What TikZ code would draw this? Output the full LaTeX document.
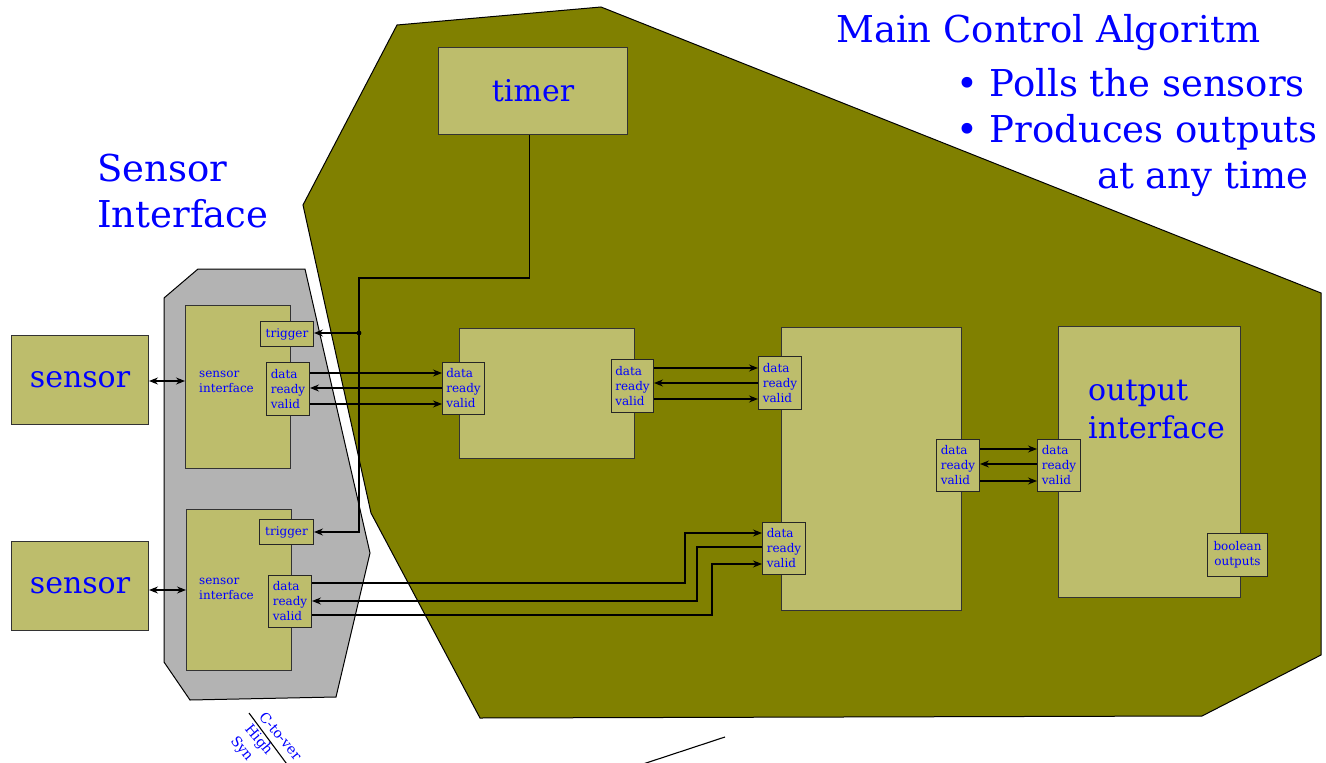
\documentclass[tikz,border=0pt]{standalone}
\usepackage{fontspec}
\setmainfont{DejaVu Serif}
\usetikzlibrary{arrows.meta,calc}
\definecolor{boxfill}{RGB}{189,189,108}
\definecolor{olivebg}{RGB}{128,128,0}
\definecolor{graybg}{RGB}{179,179,179}
\definecolor{txtblue}{RGB}{0,0,255}
\begin{document}
\begin{tikzpicture}[x=1pt,y=-1pt,
  blk/.style={draw=black!80, fill=boxfill, line width=1pt, inner sep=0pt, anchor=north west},
  port/.style={draw=black!85, fill=boxfill, line width=1pt, inner sep=0pt, anchor=north west,
    text=txtblue, font=\fontsize{12}{15}\selectfont, align=left},
  arr/.style={-{Stealth[length=9pt,width=7pt,inset=3pt]}, line width=1.1pt},
  dbl/.style={{Stealth[length=9pt,width=7pt,inset=3pt]}-{Stealth[length=9pt,width=7pt,inset=3pt]}, line width=1.1pt},
  ln/.style={line width=1.1pt},
  bigtxt/.style={text=txtblue, font=\fontsize{30}{38}\selectfont, inner sep=0pt},
  hugetxt/.style={text=txtblue, font=\fontsize{37}{46}\selectfont, inner sep=0pt},
  smalltxt/.style={text=txtblue, font=\fontsize{12}{15}\selectfont, inner sep=0pt, align=left},
  notetxt/.style={text=txtblue, font=\fontsize{14}{18.5}\selectfont, inner sep=0pt, rotate=-50, align=left, anchor=base west}
]
\useasboundingbox (0,0) rectangle (1326,763);
% background regions
\draw[fill=olivebg, line width=1pt] (397,25) -- (601,7) -- (1321,293) -- (1321,655) -- (1202,716) -- (480,718) -- (371,513) -- (303,205) -- cycle;
\draw[fill=graybg, line width=1pt] (198,269) -- (305,269) -- (370,553) -- (336,697) -- (190,700) -- (164,662) -- (164,298) -- cycle;

% labels (base anchor = baseline of last line)
\node[hugetxt, anchor=base west, align=left] (silabel) at (97,227) {Sensor\\Interface};
\node[hugetxt, anchor=base west] (mainlabel) at (836,42) {Main Control Algoritm};
\node[hugetxt, anchor=base west, align=left] (bullets) at (956,188) {\textbullet{} Polls the sensors\\\textbullet{} Produces outputs\\\hspace*{141pt}at any time};

% blocks
\node[blk, minimum width=137pt, minimum height=89pt, bigtxt] (s1) at (11,335) {sensor};
\node[blk, minimum width=137pt, minimum height=89pt, bigtxt] (s2) at (11,541) {sensor};
\node[blk, minimum width=105pt, minimum height=163pt] (si1) at (185,305) {};
\node[blk, minimum width=105pt, minimum height=161pt] (si2) at (186,509) {};
\node[smalltxt, anchor=west] (si1txt) at (199,382) {sensor\\interface};
\node[smalltxt, anchor=west] (si2txt) at (199,589) {sensor\\interface};
\node[blk, minimum width=189pt, minimum height=87pt, bigtxt] (timer) at (438,47) {timer};
\node[blk, minimum width=175pt, minimum height=130pt] (A) at (459,328) {};
\node[blk, minimum width=180pt, minimum height=283pt] (B) at (781,327) {};
\node[blk, minimum width=182pt, minimum height=271pt] (O) at (1058,326) {};
\node[bigtxt, anchor=base west, align=left] (otxt) at (1088,438) {output\\interface};

% ports
\node[port, minimum width=53pt, minimum height=25pt, align=center] (si1t) at (260,321) {trigger};
\node[port, minimum width=54pt, minimum height=25pt, align=center] (si2t) at (259,519) {trigger};
\node[port, minimum width=43pt, minimum height=53pt] (si1p) at (266,362) {data\\ready\\valid};
\node[port, minimum width=43pt, minimum height=52pt] (si2p) at (268,575) {data\\ready\\valid};
\node[port, minimum width=42pt, minimum height=52pt] (a1) at (442,362) {data\\ready\\valid};
\node[port, minimum width=42pt, minimum height=53pt] (a2) at (611,359) {data\\ready\\valid};
\node[port, minimum width=43pt, minimum height=53pt] (b1) at (758,356) {data\\ready\\valid};
\node[port, minimum width=43pt, minimum height=52pt] (b2) at (762,522) {data\\ready\\valid};
\node[port, minimum width=43pt, minimum height=52pt] (b3) at (936,439) {data\\ready\\valid};
\node[port, minimum width=43pt, minimum height=52pt] (o1) at (1037,439) {data\\ready\\valid};
\node[port, minimum width=60pt, minimum height=43pt, align=center] (bo) at (1207,533) {boolean\\outputs};

% sensor links
\draw[dbl] (s1.east |- 0,381) -- (si1.west |- 0,381);
\draw[dbl] (s2.east |- 0,590) -- (si2.west |- 0,590);

% timer
\coordinate (tap) at (359,333);
\coordinate (tcorner) at (359,278);
\draw[arr] ($(timer.south)+(-3.5,0)$) |- (tcorner) -- (tap |- si2t.east) -- (si2t.east);
\fill (tap) circle (2.4pt);
\draw[arr] (tap) -- (tap -| si1t.east);

% si1 <-> A
\draw[arr] (si1p.east |- 0,373) -- (a1.west |- 0,373);
\draw[arr] (a1.west |- 0,388) -- (si1p.east |- 0,388);
\draw[arr] (si1p.east |- 0,404) -- (a1.west |- 0,404);
% A <-> B
\draw[arr] (a2.east |- 0,368) -- (b1.west |- 0,368);
\draw[arr] (b1.west |- 0,383) -- (a2.east |- 0,383);
\draw[arr] (a2.east |- 0,399) -- (b1.west |- 0,399);
% B <-> output
\draw[arr] (b3.east |- 0,449) -- (o1.west |- 0,449);
\draw[arr] (o1.west |- 0,464) -- (b3.east |- 0,464);
\draw[arr] (b3.east |- 0,481) -- (o1.west |- 0,481);
% si2 <-> B
\draw[arr] (si2p.east |- 0,583) -- (685,583) -- (685,533) -- (b2.west |- 0,533);
\draw[arr] (b2.west |- 0,547) -- (697,547) -- (697,601) -- (si2p.east |- 0,601);
\draw[arr] (si2p.east |- 0,615) -- (712,615) -- (712,564) -- (b2.west |- 0,564);

% bottom notes
\draw[ln] (249,713) -- (295,775);
\node[notetxt] (notes) at (230,741) {C-to-ver\\High\\Syn};
\draw[ln] (725,737) -- (640,765);
\end{tikzpicture}
\end{document}
